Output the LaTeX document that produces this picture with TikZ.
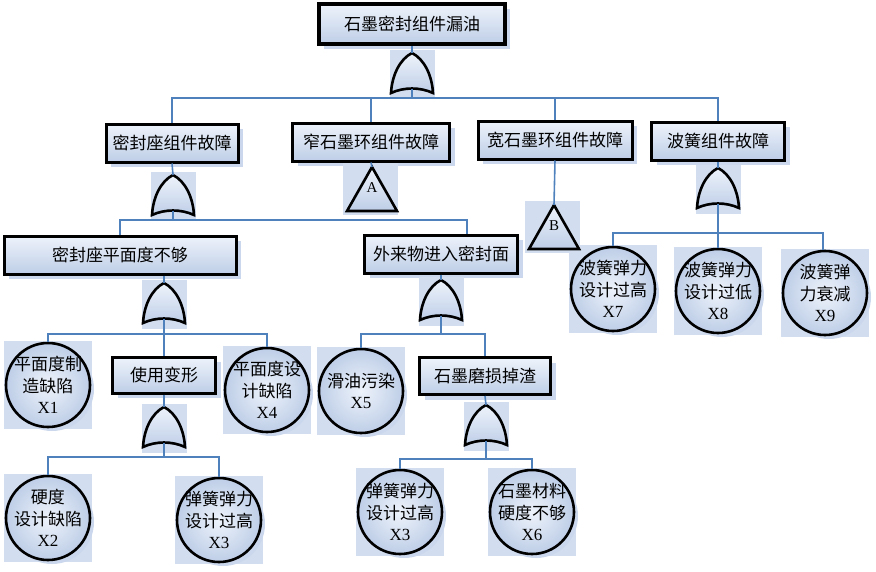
\documentclass[tikz,border=0pt]{standalone}
\usepackage{fontspec}
\setmainfont{Liberation Serif}
\newfontfamily\cjk{Noto Sans CJK SC}
\usetikzlibrary{shadows,backgrounds}

\definecolor{linkblue}{RGB}{79,129,189}
\definecolor{boxtop}{RGB}{238,243,251}
\definecolor{boxbot}{RGB}{190,206,231}
\definecolor{shadeblue}{RGB}{203,215,236}
\definecolor{iconbg}{RGB}{210,221,239}

\tikzset{
  event/.style={draw=black, line width=3pt, top color=boxtop, bottom color=boxbot,
    minimum height=38pt, inner sep=0pt,
    drop shadow={shadow xshift=5pt, shadow yshift=-5pt, fill=shadeblue, opacity=1}},
  basic/.style={circle, draw=black, line width=2.6pt, inner color=boxtop, outer color=boxbot,
    minimum size=84pt, inner sep=-14pt, align=center,
    drop shadow={shadow xshift=4pt, shadow yshift=-4pt, fill=shadeblue, opacity=1}},
  link/.style={draw=linkblue, line width=1.6pt},
  orgate/.pic={
    \fill[iconbg] (-22,3) rectangle (23,-46);
    \draw[black, line width=2.6pt, top color=boxtop, bottom color=boxbot]
      (0,0) .. controls (-12,-6) and (-20,-22) .. (-21,-40)
      .. controls (-8,-34) and (8,-34) .. (21,-40)
      .. controls (20,-22) and (12,-6) .. cycle;
    \coordinate (-top) at (0,0);
    \coordinate (-out) at (0,-35.5);
  },
  transfer/.pic={
    \fill[iconbg] (-29,4) rectangle (26,-48);
    \draw[black, line width=2.6pt, top color=boxtop, bottom color=boxbot]
      (0,0) -- (-25,-44) -- (25,-44) -- cycle;
    \coordinate (-top) at (0,0);
    \node[font=\rmfamily\fontsize{15}{15}\selectfont] (-tag) at (0,-21) {#1};
  }
}

\begin{document}
\begin{tikzpicture}[x=1pt,y=1pt,every node/.style={font=\cjk\fontsize{17}{21.5}\selectfont}]
\useasboundingbox (0,0) rectangle (876,-571);

% top event
\node[event,line width=3.5pt,minimum width=186pt,minimum height=40pt] (top) at (412,-24) {石墨密封组件漏油};
\pic (g0) at (412,-53) {orgate};

% second level
\node[event,minimum width=132pt] (s1) at (172,-143) {密封座组件故障};
\node[event,minimum width=157pt] (s2) at (371,-142) {窄石墨环组件故障};
\node[event,minimum width=154pt] (s3) at (555,-140) {宽石墨环组件故障};
\node[event,minimum width=133pt] (s4) at (718,-141) {波簧组件故障};
\pic (g1) at (173,-175) {orgate};
\pic (ta) at (372,-167) {transfer=A};
\pic (tb) at (554,-205) {transfer=B};
\pic (g2) at (718,-168) {orgate};

% third level
\node[event,minimum width=232pt] (m1) at (120,-255) {密封座平面度不够};
\node[event,minimum width=153pt] (m2) at (441,-254) {外来物进入密封面};
\pic (g3) at (164,-283) {orgate};
\pic (g4) at (441,-280) {orgate};
\node[basic] (x7) at (613,-289) {波簧弹力\\设计过高\\{\rmfamily X7}};
\node[basic] (x8) at (718,-291) {波簧弹力\\设计过低\\{\rmfamily X8}};
\node[basic] (x9) at (825,-293) {波簧弹\\力衰减\\{\rmfamily X9}};

% fourth level
\node[basic] (x1) at (48,-385) {平面度制\\造缺陷\\{\rmfamily X1}};
\node[event,minimum width=103pt,minimum height=36pt] (u1) at (164,-375) {使用变形};
\node[basic] (x4) at (267,-390) {平面度设\\计缺陷\\{\rmfamily X4}};
\node[basic] (x5) at (361,-391) {滑油污染\\{\rmfamily X5}};
\node[event,minimum width=131pt,minimum height=37pt] (u2) at (485,-376) {石墨磨损掉渣};
\pic (g5) at (164,-407) {orgate};
\pic (g6) at (486,-405) {orgate};

% basic events at the bottom
\node[basic] (x2) at (48,-518) {硬度\\设计缺陷\\{\rmfamily X2}};
\node[basic] (x3) at (219,-520) {弹簧弹力\\设计过高\\{\rmfamily X3}};
\node[basic] (x3b) at (400,-512) {弹簧弹力\\设计过高\\{\rmfamily X3}};
\node[basic] (x6) at (532,-512) {石墨材料\\硬度不够\\{\rmfamily X6}};

% icon squares behind the circles
\begin{scope}[on background layer]
\foreach \n in {x1,x2,x3,x3b,x4,x5,x6,x7,x8,x9}
  \fill[iconbg] ([shift={(-44pt,-44pt)}]\n.center) rectangle ([shift={(44pt,44pt)}]\n.center);
\end{scope}

% bus lines
\coordinate (b0) at (412,-98);
\coordinate (b1) at (173,-220);
\coordinate (b2) at (718,-233);
\coordinate (b3) at (164,-334);
\coordinate (b4) at (441,-334);
\coordinate (b5) at (164,-457);
\coordinate (b6) at (486,-459);

\draw[link] (top.south) -- (g0-top);
\draw[link] (g0-out) -- (b0);
\foreach \n in {s1,s2,s3,s4}
  \draw[link] (b0) -| (\n.north);

\draw[link] (s1.south) -- (g1-top);
\draw[link] (s2.south) -- (ta-top);
\draw[link] (s3.south) -- (tb-top);
\draw[link] (s4.south) -- (g2-top);

\draw[link] (g1-out) -- (b1);
\draw[link] (b1) -| (m1.north);
\draw[link] (b1) -| ([xshift=26pt]m2.north);

\draw[link] (g2-out) -- (b2);
\draw[link] (b2) -| (x7.north);
\draw[link] (b2) -| ([xshift=-2pt]x9.north);
\draw[link] (b2) -- (x8.north);

\draw[link] (m1.south -| g3-top) -- (g3-top);
\draw[link] (g3-out) -- (b3);
\foreach \n in {x1,u1,x4}
  \draw[link] (b3) -| (\n.north);

\draw[link] (m2.south) -- (g4-top);
\draw[link] (g4-out) -- (b4);
\foreach \n in {x5,u2}
  \draw[link] (b4) -| (\n.north);

\draw[link] (u1.south) -- (g5-top);
\draw[link] (g5-out) -- (b5);
\foreach \n in {x2,x3}
  \draw[link] (b5) -| (\n.north);

\draw[link] (u2.south) -- (g6-top);
\draw[link] (g6-out) -- (b6);
\foreach \n in {x3b,x6}
  \draw[link] (b6) -| (\n.north);
\end{tikzpicture}
\end{document}
